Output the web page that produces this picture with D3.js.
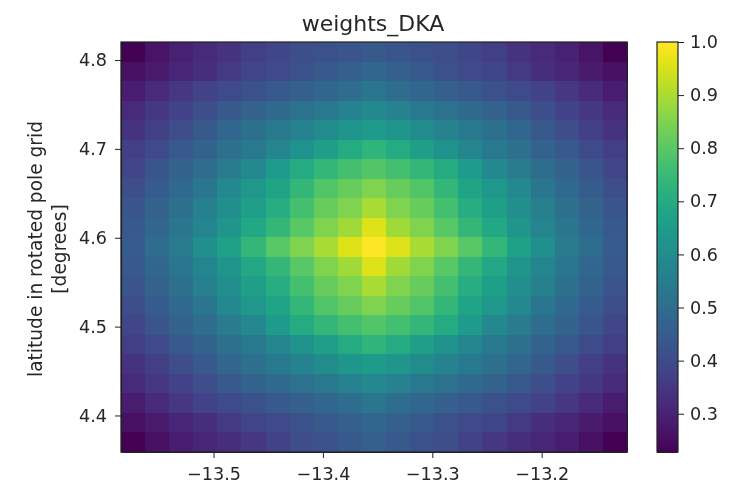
<!DOCTYPE html>
<html>
<head>
<meta charset="utf-8">
<script src="https://cdnjs.cloudflare.com/ajax/libs/d3/7.8.5/d3.min.js"></script>
<style>
html, body { margin: 0; padding: 0; background: #fff; }
svg { display: block; filter: blur(0.5px); }
text { font-family: "DejaVu Sans", sans-serif; fill: #262626; }
.domain, .tick line { stroke: #222; }
.cells rect, .barcells rect { shape-rendering: crispEdges; }
</style>
</head>
<body>
<svg id="chart" width="732" height="485"></svg>
<script>
//tick labels
var lonTicks = [-13.5, -13.4, -13.3, -13.2];
var latTicks = [4.4, 4.5, 4.6, 4.7, 4.8];
var barTicks = [0.3, 0.4, 0.5, 0.6, 0.7, 0.8, 0.9, 1.0];

var titleText = "weights_DKA";
var yLabelLines = ["latitude in rotated pole grid", "[degrees]"];

//axis ranges
var lonRange = [-13.5846, -13.122];
var latRange = [4.3589, 4.8203];
var weightRange = [0.228, 1.0];

//weights read by eye, first row is the top of the picture
var weights = [
	[.23,.27,.30,.32,.34,.37,.39,.41,.42,.43,.44,.43,.42,.41,.39,.37,.34,.32,.30,.27,.23],
	[.26,.285,.31,.33,.36,.385,.40,.42,.44,.46,.48,.46,.44,.42,.40,.385,.36,.33,.31,.285,.26],
	[.29,.32,.35,.38,.40,.42,.44,.46,.48,.50,.53,.50,.48,.46,.44,.42,.40,.38,.35,.32,.29],
	[.32,.35,.38,.41,.44,.47,.49,.52,.54,.57,.59,.57,.54,.52,.49,.47,.44,.41,.38,.35,.32],
	[.34,.37,.41,.44,.48,.51,.54,.57,.60,.63,.65,.63,.60,.57,.54,.51,.48,.44,.41,.37,.34],
	[.37,.40,.44,.47,.51,.54,.58,.62,.66,.70,.73,.70,.66,.62,.58,.54,.51,.47,.44,.40,.37],
	[.39,.43,.47,.50,.55,.59,.65,.70,.74,.77,.79,.77,.74,.70,.65,.59,.55,.50,.47,.43,.39],
	[.41,.45,.49,.53,.59,.64,.68,.74,.79,.82,.85,.82,.79,.74,.68,.64,.59,.53,.49,.45,.41],
	[.43,.47,.51,.56,.61,.66,.71,.77,.82,.85,.90,.85,.82,.77,.71,.66,.61,.56,.51,.47,.43],
	[.44,.48,.53,.58,.63,.69,.74,.80,.85,.89,.96,.89,.85,.80,.74,.69,.63,.58,.53,.48,.44],
	[.45,.50,.55,.61,.67,.74,.80,.85,.90,.96,1.0,.96,.90,.85,.80,.74,.67,.61,.55,.50,.45],
	[.44,.48,.53,.58,.63,.69,.74,.80,.85,.89,.96,.89,.85,.80,.74,.69,.63,.58,.53,.48,.44],
	[.43,.47,.51,.56,.61,.66,.71,.77,.82,.85,.90,.85,.82,.77,.71,.66,.61,.56,.51,.47,.43],
	[.41,.45,.49,.53,.59,.64,.68,.74,.79,.82,.85,.82,.79,.74,.68,.64,.59,.53,.49,.45,.41],
	[.39,.43,.47,.50,.55,.59,.65,.70,.74,.77,.79,.77,.74,.70,.65,.59,.55,.50,.47,.43,.39],
	[.37,.40,.44,.47,.51,.54,.58,.62,.66,.70,.73,.70,.66,.62,.58,.54,.51,.47,.44,.40,.37],
	[.34,.37,.41,.44,.48,.51,.54,.57,.60,.63,.65,.63,.60,.57,.54,.51,.48,.44,.41,.37,.34],
	[.32,.35,.38,.41,.44,.47,.49,.52,.54,.57,.59,.57,.54,.52,.49,.47,.44,.41,.38,.35,.32],
	[.29,.32,.35,.38,.40,.42,.44,.46,.48,.50,.53,.50,.48,.46,.44,.42,.40,.38,.35,.32,.29],
	[.26,.285,.31,.33,.36,.385,.40,.42,.44,.46,.48,.46,.44,.42,.40,.385,.36,.33,.31,.285,.26],
	[.23,.26,.29,.31,.33,.35,.38,.41,.42,.44,.46,.44,.42,.41,.38,.35,.33,.31,.29,.26,.23]
];

//plot frame
var plot = { left: 121, right: 627, top: 42, bottom: 452 };
var bar = { left: 657, right: 678 };
var tickFont = 17.6;
var labelFont = 18.6;
var titleFont = 22;

var svg = d3.select("#chart");

var x = d3.scaleLinear().domain(lonRange).range([plot.left, plot.right]);
var y = d3.scaleLinear().domain(latRange).range([plot.bottom, plot.top]);
var yBar = d3.scaleLinear().domain(weightRange).range([plot.bottom, plot.top]);

var color = d3.scaleSequential(d3.interpolateViridis).domain(weightRange);

//cells are on a regular grid so bands are enough
var colBand = d3.scaleBand().domain(d3.range(weights[0].length)).range([plot.left, plot.right]);
var rowBand = d3.scaleBand().domain(d3.range(weights.length)).range([plot.top, plot.bottom]);

var rows = svg.append("g").attr("class", "cells")
	.selectAll("g")
	.data(weights)
	.enter().append("g");

rows.selectAll("rect")
	.data(function(d, r) { return d.map(function(v) { return { v: v, r: r }; }); })
	.enter().append("rect")
	.attr("x", function(d, i) { return Math.round(colBand(i)); })
	.attr("y", function(d) { return Math.round(rowBand(d.r)); })
	.attr("width", Math.ceil(colBand.bandwidth()))
	.attr("height", Math.ceil(rowBand.bandwidth()))
	.attr("fill", function(d) { return color(d.v); });

//axes
function styleAxis(g) {
	g.selectAll("text").style("font-size", tickFont + "px");
	g.selectAll(".tick line").attr("stroke-width", 1);
	g.select(".domain").attr("stroke-width", 1.2);
}

svg.append("g")
	.attr("transform", "translate(0," + plot.bottom + ")")
	.call(d3.axisBottom(x).tickValues(lonTicks).tickFormat(d3.format(".1f")).tickSizeInner(6).tickSizeOuter(0).tickPadding(10))
	.call(styleAxis);

svg.append("g")
	.attr("transform", "translate(" + plot.left + ",0)")
	.call(d3.axisLeft(y).tickValues(latTicks).tickFormat(d3.format(".1f")).tickSizeInner(6).tickSizeOuter(0).tickPadding(8))
	.call(styleAxis);

//top and right spines
svg.append("rect")
	.attr("x", plot.left).attr("y", plot.top)
	.attr("width", plot.right - plot.left).attr("height", plot.bottom - plot.top)
	.attr("fill", "none").attr("stroke", "#222").attr("stroke-width", 1.2);

//colorbar
var barSteps = d3.range(weightRange[0], weightRange[1], 0.002);
svg.append("g").attr("class", "barcells").selectAll("rect")
	.data(barSteps)
	.enter().append("rect")
	.attr("x", bar.left)
	.attr("width", bar.right - bar.left)
	.attr("y", function(d) { return Math.floor(yBar(d + 0.002)); })
	.attr("height", 3)
	.attr("fill", function(d) { return color(d); });

svg.append("rect")
	.attr("x", bar.left).attr("y", plot.top)
	.attr("width", bar.right - bar.left).attr("height", plot.bottom - plot.top)
	.attr("fill", "none").attr("stroke", "#222").attr("stroke-width", 1.2);

svg.append("g")
	.attr("transform", "translate(" + bar.right + ",0)")
	.call(d3.axisRight(yBar).tickValues(barTicks).tickFormat(d3.format(".1f")).tickSizeInner(6).tickSizeOuter(0).tickPadding(6))
	.call(styleAxis)
	.select(".domain").remove();

//title and y label
svg.append("text")
	.attr("x", (plot.left + plot.right) / 2 - 1)
	.attr("y", 31)
	.attr("text-anchor", "middle")
	.style("font-size", titleFont + "px")
	.text(titleText);

var labelX = [42, 66];
yLabelLines.forEach(function(line, i) {
	svg.append("text")
		.attr("transform", "translate(" + labelX[i] + ",249) rotate(-90)")
		.attr("text-anchor", "middle")
		.style("font-size", labelFont + "px")
		.text(line);
});
</script>
</body>
</html>
